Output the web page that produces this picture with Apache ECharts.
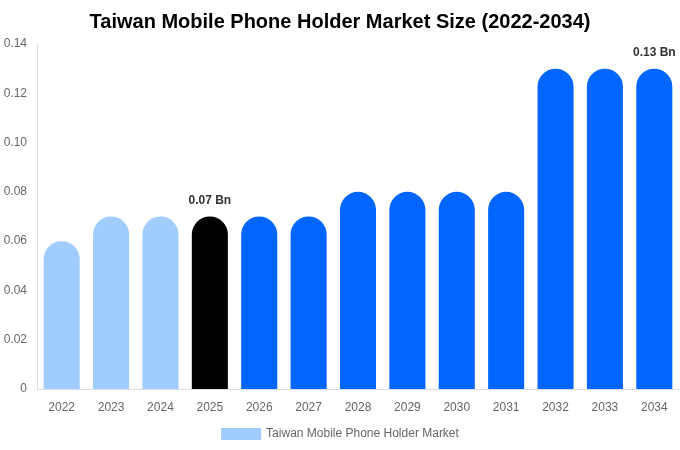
<!DOCTYPE html>
<html><head><meta charset="utf-8">
<script src="https://cdn.jsdelivr.net/npm/echarts@6/dist/echarts.min.js"></script>
<style>html,body{margin:0;padding:0;background:#fff}#c{width:680px;height:450px}</style>
</head><body><div id="c"></div>
<script>
var categories = ['2022','2023','2024','2025','2026','2027','2028','2029','2030','2031','2032','2033','2034'];
var values = [0.06,0.07,0.07,0.07,0.07,0.07,0.08,0.08,0.08,0.08,0.13,0.13,0.13];
var colors = ['#a0cdfd','#a0cdfd','#a0cdfd','#000000','#0066ff','#0066ff','#0066ff','#0066ff','#0066ff','#0066ff','#0066ff','#0066ff','#0066ff'];
var labelled = {'2025':'0.07 Bn','2034':'0.13 Bn'};
var yTicks = {min:0,max:0.14,interval:0.02};
var seriesName = 'Taiwan Mobile Phone Holder Market';

var chart = echarts.init(document.getElementById('c'));
chart.setOption({
  animation:false,
  title:{text:'Taiwan Mobile Phone Holder Market Size (2022-2034)',left:'center',top:7,
    textStyle:{fontFamily:'Liberation Sans, Arial',fontSize:20,fontWeight:'bold',color:'#000'}},
  legend:{bottom:5,left:'center',itemWidth:40,itemHeight:12,icon:'rect',
    textStyle:{fontFamily:'Liberation Sans, Arial',fontSize:12,color:'#666'},data:[seriesName]},
  grid:{left:37,right:1,top:44,bottom:61,containLabel:false},
  xAxis:{type:'category',data:categories,
    axisLine:{lineStyle:{color:'#ddd'}},axisTick:{show:false},
    axisLabel:{color:'#666',fontSize:12,fontFamily:'Liberation Sans, Arial',margin:13}},
  yAxis:{type:'value',min:yTicks.min,max:yTicks.max,interval:yTicks.interval,
    axisLine:{show:true,lineStyle:{color:'#ddd'}},splitLine:{show:false},axisTick:{show:false},
    axisLabel:{color:'#666',fontSize:12,fontFamily:'Liberation Sans, Arial',margin:10,
      formatter:function(v){return v===0?'0':v.toFixed(2);}}},
  series:[{name:seriesName,type:'bar',barWidth:'73%',
    itemStyle:{color:'#a0cdfd'},
    data:values.map(function(v,i){
      var d={value:v,itemStyle:{color:colors[i],borderRadius:[18,18,0,0]}};
      if(labelled[categories[i]]){
        d.label={show:true,position:'top',distance:10,formatter:labelled[categories[i]],
          fontFamily:'Liberation Sans, Arial',fontSize:12,fontWeight:'bold',color:'#333'};
      }
      return d;
    })}]
});
</script></body></html>
